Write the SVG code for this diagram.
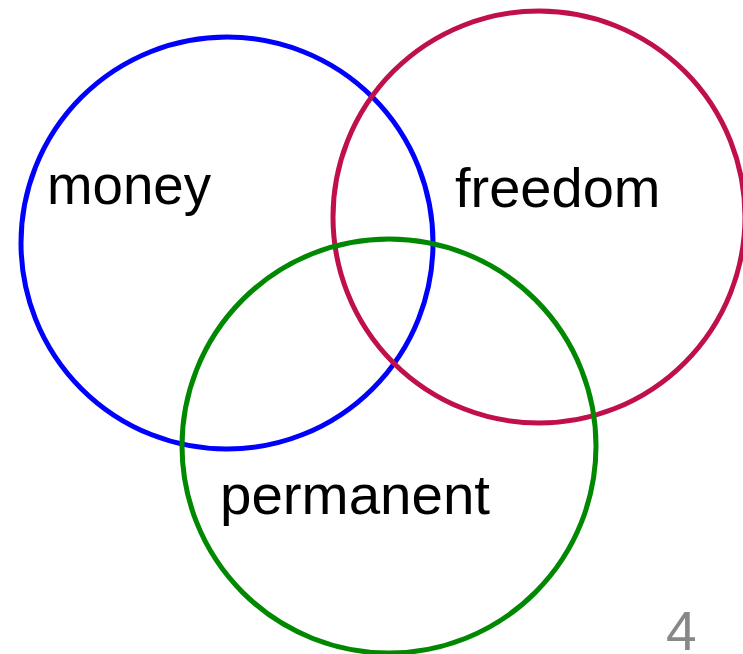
<svg xmlns="http://www.w3.org/2000/svg" width="743" height="654" viewBox="0 0 743 654">
<style>
.c{fill:none;stroke-width:5}
.t{font-family:"Liberation Sans",Arial,sans-serif;font-size:56px;fill:#000}
</style>
<rect width="743" height="654" fill="#fff"/>
<g id="money"><circle class="c" cx="227" cy="243" r="206" stroke="#0000ff"/><text class="t" x="47" y="204" textLength="164" lengthAdjust="spacingAndGlyphs">money</text></g>
<g id="freedom"><circle class="c" cx="539" cy="217" r="206" stroke="#c0104a"/><text class="t" x="455" y="207">freedom</text></g>
<g id="permanent"><circle class="c" cx="389" cy="446" r="207" stroke="#008800"/><text class="t" x="220" y="514" textLength="270" lengthAdjust="spacingAndGlyphs">permanent</text></g>
<text x="666" y="650" style="font-family:'Liberation Sans',Arial,sans-serif;font-size:55px;fill:#888">4</text>
</svg>
